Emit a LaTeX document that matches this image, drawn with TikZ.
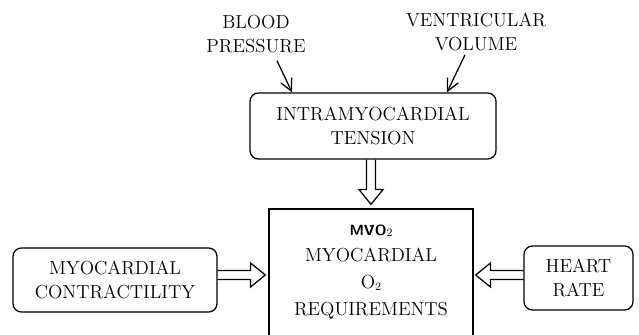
\documentclass[tikz,border=0pt]{standalone}
\usepackage{fontspec}
\usepackage{tikz}
\usetikzlibrary{positioning, arrows.meta, calc}

\newcommand{\diafont}{\fontsize{13.4}{16.5}\selectfont}
% open double-line arrow from #1 to #2
\newcommand{\fatarrow}[2]{%
  \coordinate (fabase) at ($(#2)!0.37cm!(#1)$);
  \draw[fatarr] ($(#1)!0.11cm!90:(#2)$) -- ($(fabase)!0.11cm!90:(#2)$) -- ($(fabase)!0.3cm!90:(#2)$) -- (#2)
    -- ($(fabase)!0.3cm!-90:(#2)$) -- ($(fabase)!0.11cm!-90:(#2)$) -- ($(#1)!0.11cm!-90:(#2)$);
}

\begin{document}
\begin{tikzpicture}[
    x=0.025cm, y=-0.025cm,
    roundbox/.style={rectangle, draw, line width=0.9pt, rounded corners=6pt, align=center, font=\diafont, inner sep=0pt},
    mainbox/.style={rectangle, draw, line width=0.9pt, minimum width=5.1cm, minimum height=3.4cm},
    tag/.style={align=center, font=\diafont, inner sep=0pt},
    thinarr/.style={-{Straight Barb[length=3mm, width=3mm]}, line width=0.9pt},
    fatarr/.style={line width=0.9pt, line join=miter},
]
\useasboundingbox (0,0) rectangle (639,335);
\clip (0,0) rectangle (639,335);

\node[roundbox, minimum width=6.15cm, minimum height=1.65cm] (tension) at (373,126) {INTRAMYOCARDIAL\\TENSION};
\node[tag] (bp) at (256,34) {BLOOD\\PRESSURE};
\node[tag] (vol) at (476,32) {VENTRICULAR\\VOLUME};

\node[mainbox] (mvo) at (371,277) {};
\node[tag, font=\fontsize{13.4}{19}\selectfont, below=0.4cm] (mvotext) at (mvo.north)
    {{\fontsize{10.5}{12}\selectfont\sffamily\bfseries M\.{V}O}{\fontsize{8}{9}\selectfont\raisebox{-0.3ex}{2}}\\MYOCARDIAL\\O{\fontsize{8}{9}\selectfont\raisebox{-0.3ex}{2}}\\REQUIREMENTS};

\node[roundbox, minimum width=5.1cm, minimum height=1.6cm] (contract) at (115,280) {MYOCARDIAL\\CONTRACTILITY};
\node[roundbox, minimum width=2.725cm, minimum height=1.6cm] (rate) at (578.5,278) {HEART\\RATE};

\draw[thinarr] ([xshift=0.525cm, yshift=-0.2cm]bp.south) -- ([xshift=-2.025cm]tension.north);
\draw[thinarr] ([xshift=-0.275cm, yshift=-0.1cm]vol.south) -- ([xshift=1.85cm]tension.north);

\coordinate (tensout) at (tension.south -| mvo.north);
\coordinate (mvotop) at ($(mvo.north)+(0,-4)$);
\coordinate (ctlout) at ($(contract.east)+(0,-5)$);
\coordinate (mvoleft) at ($(mvo.west |- ctlout)+(-3,0)$);
\coordinate (rateout) at ($(rate.west)+(0,-3)$);
\coordinate (mvoright) at ($(mvo.east |- rateout)+(2,0)$);

\fatarrow{tensout}{mvotop}
\fatarrow{ctlout}{mvoleft}
\fatarrow{rateout}{mvoright}

\end{tikzpicture}
\end{document}
